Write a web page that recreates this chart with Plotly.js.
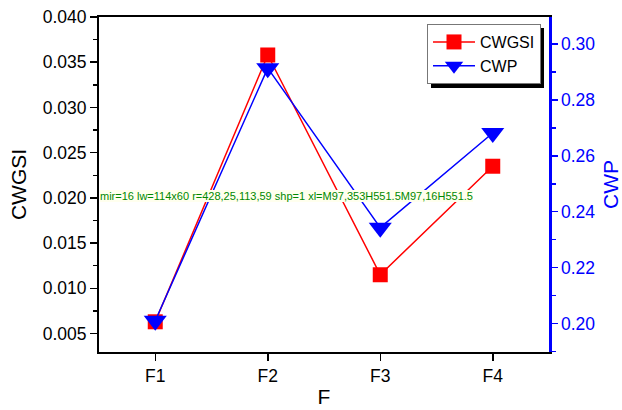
<!DOCTYPE html>
<html>
<head>
<meta charset="utf-8">
<script src="https://cdn.plot.ly/plotly-3.0.1.min.js"></script>
<style>html,body{margin:0;padding:0;background:#fff;}#chart{width:622px;height:410px;}</style>
</head>
<body>
<div id="chart"></div>
<script>
var categories = ['F1', 'F2', 'F3', 'F4'];
var cwgsi = [0.0063, 0.0358, 0.0115, 0.0235];
var cwp = [0.2010, 0.2914, 0.2343, 0.2682];

var FONT = 'Liberation Sans, Arial, sans-serif';
var RED = '#FF0000', BLUE = '#0000FF';

var traces = [
  {x: categories, y: cwgsi, name: 'CWGSI', type: 'scatter', mode: 'lines+markers',
   xaxis: 'x', yaxis: 'y',
   line: {color: RED, width: 1.5}, marker: {symbol: 'square', size: 15, color: RED}},
  {x: categories, y: cwp, name: 'CWP', type: 'scatter', mode: 'lines+markers',
   xaxis: 'x', yaxis: 'y2',
   line: {color: BLUE, width: 1.5}, marker: {symbol: 'triangle-down', size: 20, color: BLUE}}
];

var tickFont = {family: FONT, size: 17.5, color: '#000'};
var layout = {
  width: 622, height: 410,
  margin: {l: 99, r: 73, t: 17, b: 58},
  paper_bgcolor: '#fff', plot_bgcolor: '#fff',
  font: {family: FONT},
  showlegend: true,
  legend: {x: 0.7289, y: 0.979, xanchor: 'left', yanchor: 'top',
           bgcolor: '#fff', bordercolor: '#777', borderwidth: 1, itemwidth: 42,
           font: {family: FONT, size: 16, color: '#000'}},
  xaxis: {type: 'category', range: [-0.5, 3.5], showgrid: false, zeroline: false,
          showline: true, mirror: true, linecolor: '#000', linewidth: 2,
          ticks: 'outside', ticklen: 7, tickwidth: 1.5, tickcolor: '#000',
          tickfont: tickFont,
          title: {text: 'F', font: {family: FONT, size: 21, color: '#000'}, standoff: 4}},
  yaxis: {range: [0.00296, 0.040], tick0: 0, dtick: 0.005, tickformat: '.3f',
          showgrid: false, zeroline: false,
          showline: true, linecolor: '#000', linewidth: 2,
          ticks: 'outside', ticklen: 7, tickwidth: 1.5, tickcolor: '#000',
          minor: {tick0: 0, dtick: 0.0025, ticks: 'outside', ticklen: 4, tickwidth: 1.5, tickcolor: '#000', showgrid: false},
          tickfont: tickFont,
          title: {text: 'CWGSI', font: {family: FONT, size: 21, color: '#000'}, standoff: 10}},
  yaxis2: {overlaying: 'y', side: 'right', anchor: 'x',
           range: [0.1898, 0.3097], tick0: 0, dtick: 0.02, tickformat: '.2f',
           showgrid: false, zeroline: false,
           showline: true, linecolor: BLUE, linewidth: 2.5,
           ticks: 'outside', ticklen: 6, tickwidth: 1.5, tickcolor: BLUE,
           minor: {tick0: 0, dtick: 0.01, ticks: 'outside', ticklen: 4, tickwidth: 1.5, tickcolor: BLUE, showgrid: false},
           tickfont: {family: FONT, size: 17.5, color: BLUE},
           title: {text: 'CWP', font: {family: FONT, size: 21, color: BLUE}, standoff: 9}},
  shapes: [
    {type: 'rect', xref: 'paper', yref: 'paper', layer: 'above',
     x0: 0.7378, x1: 0.9889, y0: 0.7881, y1: 0.9672,
     fillcolor: '#000', line: {width: 0}}
  ]
};

var gd = document.getElementById('chart');
Plotly.newPlot(gd, traces, layout, {displayModeBar: false, staticPlot: true});
var info = 'dbg';
try {
  var fl = gd._fullLayout;
  var bg = gd.querySelector('.legend .bg');
  var r = bg ? bg.getBoundingClientRect() : null;
  info = 'mir=' + fl.xaxis._mainMirrorPosition + ' lw=' + (fl.legend._width) + 'x' + (fl.legend._height) +
    ' r=' + (r ? [r.left, r.top, r.width, r.height].map(Math.round).join(',') : 'none') +
    ' shp=' + gd.querySelectorAll('.shapelayer path').length +
    ' xl=' + (gd.querySelector('.xlines-above') ? gd.querySelector('.xlines-above').getAttribute('d') : 'na');
} catch (e) { info = 'err ' + e.message; }
var d = document.createElement('div');
d.style.cssText = 'position:absolute;left:100px;top:190px;font:11px sans-serif;color:#080;background:#ffe;';
d.textContent = info;
document.body.appendChild(d);
</script>
</body>
</html>
